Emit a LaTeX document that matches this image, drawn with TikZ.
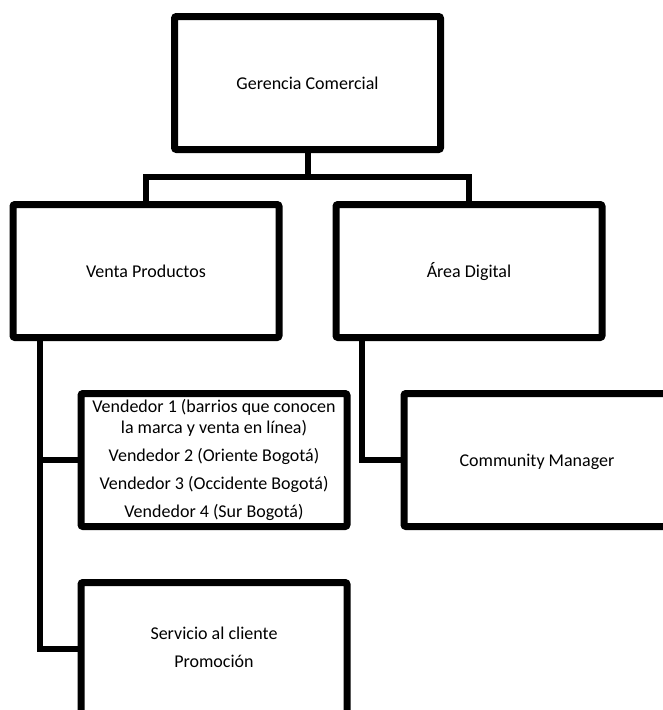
\documentclass[tikz,border=0pt]{standalone}
\usepackage{fontspec}
\setmainfont{Carlito}
\usetikzlibrary{positioning}

\tikzset{
  unit/.style={draw=black,line width=7pt,rounded corners=2pt,minimum width=266pt,minimum height=133pt,
    inner sep=2pt,align=center,font=\fontsize{18}{21}\selectfont,
    execute at begin node={\rule[-4pt]{0pt}{20pt}}},
  link/.style={draw=black,line width=6pt}
}

\begin{document}
\begin{tikzpicture}[x=1pt,y=1pt]
  \useasboundingbox (0,0) rectangle (663,-710);
  \clip (0,0) rectangle (663,-710);

  \node[unit] (gerencia) at (307.5,-83) {Gerencia Comercial};
  \node[unit] (venta) at (146,-271) {Venta Productos};
  \node[unit,right=50pt of venta] (area) {Área Digital};
  \node[unit] (vendedores) at (214,-460) {Vendedor 1 (barrios que conocen\\la marca y venta en línea)\\[7pt]
    Vendedor 2 (Oriente Bogotá)\\[7pt]Vendedor 3 (Occidente Bogotá)\\[7pt]Vendedor 4 (Sur Bogotá)};
  \node[unit,right=50pt of vendedores] (community) {Community Manager};
  \node[unit,below=49pt of vendedores] (servicio) {Servicio al cliente\\[7pt]Promoción};

  % connectors
  \coordinate[below=24pt of gerencia] (split);
  \draw[link] (gerencia) -- (split) -| (venta);
  \draw[link] (split) -| (area);
  \draw[link] ([xshift=30pt]venta.south west) |- (vendedores.west);
  \draw[link] ([xshift=30pt]venta.south west) |- (servicio.west);
  \draw[link] ([xshift=29pt]area.south west) |- (community.west);
\end{tikzpicture}
\end{document}
